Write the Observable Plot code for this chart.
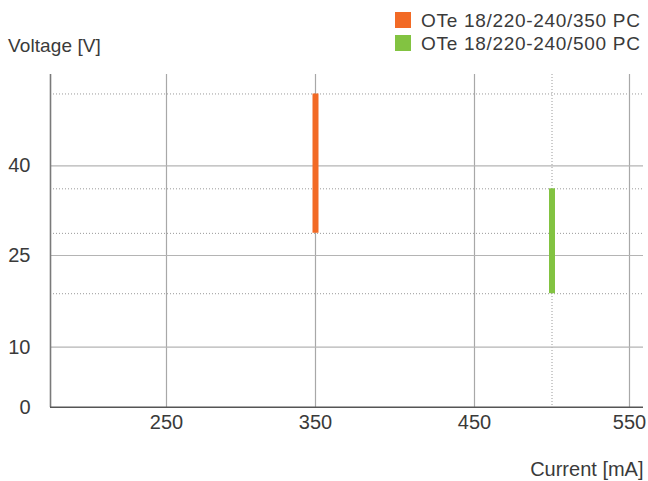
<!DOCTYPE html>
<html>
<head>
<meta charset="utf-8">
<script src="https://cdn.jsdelivr.net/npm/d3@7"></script>
<script src="https://cdn.jsdelivr.net/npm/@observablehq/plot@0.6"></script>
<style>
  html, body { margin: 0; padding: 0; background: #fff; }
  #wrap { position: relative; width: 648px; height: 481px; font-family: "Liberation Sans", Arial, sans-serif; color: #3a3a3a; }
  #head { position: relative; width: 648px; height: 60px; }
  .ylab { position: absolute; left: 8px; top: 36px; font-size: 19px; line-height: 19px; letter-spacing: 0.1px; }
  .leg { position: absolute; left: 395px; font-size: 19px; line-height: 19px; letter-spacing: 0.7px; white-space: nowrap; }
  .leg .sw { position: absolute; left: 0; width: 16px; height: 16px; }
  .leg .tx { position: absolute; left: 26px; }
  svg { display: block; }
</style>
</head>
<body>
<div id="wrap">
  <div id="head"></div>
  <div id="chart"></div>
</div>
<script>
// Data
const series = ["OTe 18/220-240/350 PC", "OTe 18/220-240/500 PC"];
const currents = [350, 500];
const vMin = [28.7, 18.75];
const vMax = [52, 36.15];
const colors = ["#f26a25", "#82c341"];
const xTicks = [250, 350, 450, 550];
const yTicks = [0, 10, 25, 40];
const yLabel = "Voltage [V]";
const xLabel = "Current [mA]";

const rows = series.map((s, i) => ({name: s, current: currents[i], vmin: vMin[i], vmax: vMax[i], color: colors[i]}));
const bounds = rows.flatMap(r => [r.vmin, r.vmax]);

// Header: y label + legend
const head = document.getElementById("head");
const yl = document.createElement("div");
yl.className = "ylab"; yl.textContent = yLabel; head.appendChild(yl);
rows.forEach((r, i) => {
  const d = document.createElement("div");
  d.className = "leg";
  d.style.top = (12 + i * 23) + "px";
  const sw = document.createElement("div");
  sw.className = "sw"; sw.style.background = r.color; sw.style.top = "0px";
  const tx = document.createElement("div");
  tx.className = "tx"; tx.textContent = r.name; tx.style.top = "-1px";
  d.appendChild(sw); d.appendChild(tx);
  head.appendChild(d);
});

// piecewise scales matching the reference's uneven tick spacing
const xDomain = [172, 250, 350, 450, 550, 559];
const xRange = [50, 166, 315, 474, 629, 643];
const yDomain = [0, 10, 25, 40, 55.2];
const yRange = [346.7, 286.7, 195, 105.3, 14.3];

const chart = Plot.plot({
  width: 648,
  height: 421,
  marginTop: 14,
  marginBottom: 74,
  marginLeft: 50,
  marginRight: 5,
  style: {fontFamily: "Liberation Sans, Arial, sans-serif", fontSize: "20px", color: "#3a3a3a", background: "#fff"},
  x: {type: "linear", domain: xDomain, range: xRange},
  y: {type: "linear", domain: yDomain, range: yRange},
  marks: [
    // dotted reference lines for each range bound and current
    Plot.ruleY(bounds, {stroke: "#9a9a9a", strokeWidth: 1, strokeDasharray: "1,2"}),
    Plot.ruleX(currents, {stroke: "#9a9a9a", strokeWidth: 1, strokeDasharray: "1,2"}),
    // solid grid
    Plot.gridX({ticks: xTicks, stroke: "#a8a8a8", strokeOpacity: 1, strokeWidth: 1.2}),
    Plot.gridY({ticks: yTicks.filter(t => t > 0), stroke: "#b4b4b4", strokeOpacity: 1, strokeWidth: 1.2}),
    // axes lines
    Plot.ruleX([xDomain[0]], {stroke: "#7a7a7a", strokeWidth: 1.6}),
    Plot.ruleY([0], {stroke: "#555", strokeWidth: 1.6}),
    // tick labels
    Plot.axisY({ticks: yTicks, tickSize: 0, tickPadding: 20, label: null, fontSize: 20}),
    Plot.axisX({ticks: xTicks, tickSize: 0, tickPadding: 7, label: null, fontSize: 20}),
    // voltage ranges
    Plot.ruleX(rows, {x: "current", y1: "vmin", y2: "vmax", stroke: "color", strokeWidth: 6}),
    // x label
    Plot.text([xLabel], {frameAnchor: "bottom-right", text: d => d, dy: 68, textAnchor: "end", fontSize: 20, fill: "#3a3a3a"})
  ]
});
document.getElementById("chart").appendChild(chart);
</script>
</body>
</html>
